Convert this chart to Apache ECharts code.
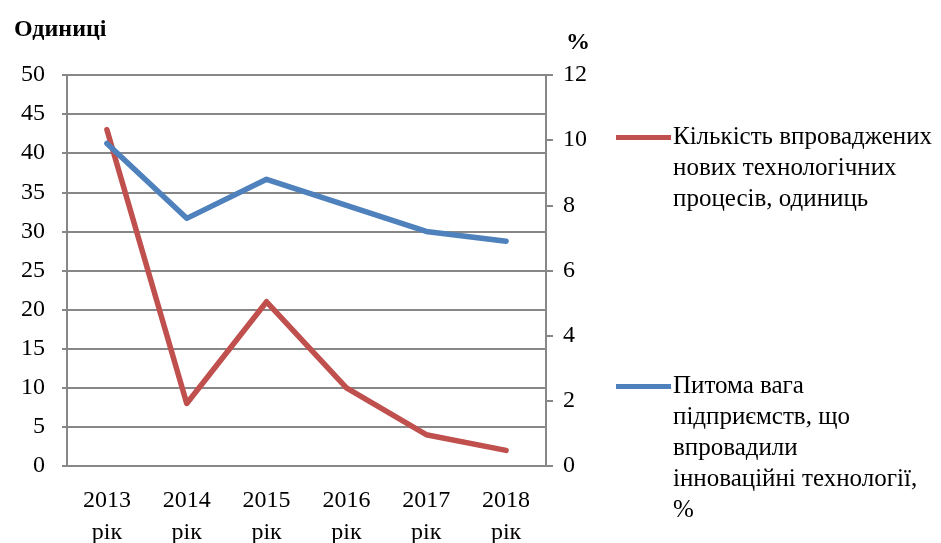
<!DOCTYPE html>
<html>
<head>
<meta charset="utf-8">
<script src="https://cdn.jsdelivr.net/npm/echarts@6/dist/echarts.min.js"></script>
<style>
  html, body { margin: 0; padding: 0; background: #fff; }
  #chart { width: 941px; height: 543px; }
</style>
</head>
<body>
<div id="chart"></div>
<script>
var years = ['2013\nрік', '2014\nрік', '2015\nрік', '2016\nрік', '2017\nрік', '2018\nрік'];
var processCount = [43, 8, 21, 10, 4, 2];        // одиниці, ліва вісь
var innovShare = [9.9, 7.6, 8.8, 8.0, 7.2, 6.9];  // %, права вісь
var redName = 'Кількість впроваджених нових технологічних процесів, одиниць';
var blueName = 'Питома вага підприємств, що впровадили інноваційні технології, %';
// порожні рядки зверху, щоб маркер легенди стояв навпроти першого рядка
var redLegendText = '\n\nКількість впроваджених\nнових технологічних\nпроцесів, одиниць';
var blueLegendText = '\n\n\n\nПитома вага\nпідприємств, що\nвпровадили\nінноваційні технології,\n%';

var font = '"Liberation Serif", "Times New Roman", serif';
var gridColor = '#878787';

var myChart = echarts.init(document.getElementById('chart'));
myChart.setOption({
  animation: false,
  textStyle: { fontFamily: font },
  title: [
    { text: 'Одиниці', left: 9, top: 13, textStyle: { fontFamily: font, fontSize: 24, fontWeight: 'bold', color: '#000' } },
    { text: '%', left: 561, top: 26, textStyle: { fontFamily: font, fontSize: 24, fontWeight: 'bold', color: '#000' } }
  ],
  grid: { left: 67, right: 395, top: 75, bottom: 77, outerBoundsMode: 'none' },
  legend: [
    {
      data: [redName], left: 616, top: 60, padding: 0,
      itemWidth: 55, itemHeight: 5, itemGap: 0, icon: 'rect',
      formatter: function () { return redLegendText; },
      textStyle: { fontFamily: font, fontSize: 25, lineHeight: 31, color: '#000', padding: [0, 0, 0, -3] }
    },
    {
      data: [blueName], left: 616, top: 247, padding: 0,
      itemWidth: 55, itemHeight: 5, itemGap: 0, icon: 'rect',
      formatter: function () { return blueLegendText; },
      textStyle: { fontFamily: font, fontSize: 25, lineHeight: 31, color: '#000', padding: [0, 0, 0, -3] }
    }
  ],
  xAxis: {
    type: 'category',
    data: years,
    axisLine: { lineStyle: { color: gridColor, width: 2 } },
    axisTick: { length: 8, lineStyle: { color: gridColor, width: 2 } },
    axisLabel: { fontFamily: font, fontSize: 24, lineHeight: 32, color: '#000', margin: 19 }
  },
  yAxis: [
    {
      type: 'value', min: 0, max: 50, interval: 5, position: 'left',
      axisLine: { show: true, lineStyle: { color: gridColor, width: 2 } },
      axisTick: { show: true, length: 5, lineStyle: { color: gridColor, width: 2 } },
      axisLabel: { fontFamily: font, fontSize: 24, color: '#000', margin: 22 },
      splitLine: { show: true, lineStyle: { color: gridColor, width: 2 } }
    },
    {
      type: 'value', min: 0, max: 12, interval: 2, position: 'right',
      axisLine: { show: true, lineStyle: { color: gridColor, width: 2 } },
      axisTick: { show: true, length: 7, lineStyle: { color: gridColor, width: 2 } },
      axisLabel: { fontFamily: font, fontSize: 24, color: '#000', margin: 17 },
      splitLine: { show: false }
    }
  ],
  series: [
    {
      name: redName, type: 'line', yAxisIndex: 0, data: processCount,
      symbol: 'none', color: '#c0504d',
      lineStyle: { width: 5.5, color: '#c0504d', cap: 'round', join: 'round' }
    },
    {
      name: blueName, type: 'line', yAxisIndex: 1, data: innovShare,
      symbol: 'none', color: '#4f81bd',
      lineStyle: { width: 5.5, color: '#4f81bd', cap: 'round', join: 'round' }
    }
  ]
});
</script>
</body>
</html>
